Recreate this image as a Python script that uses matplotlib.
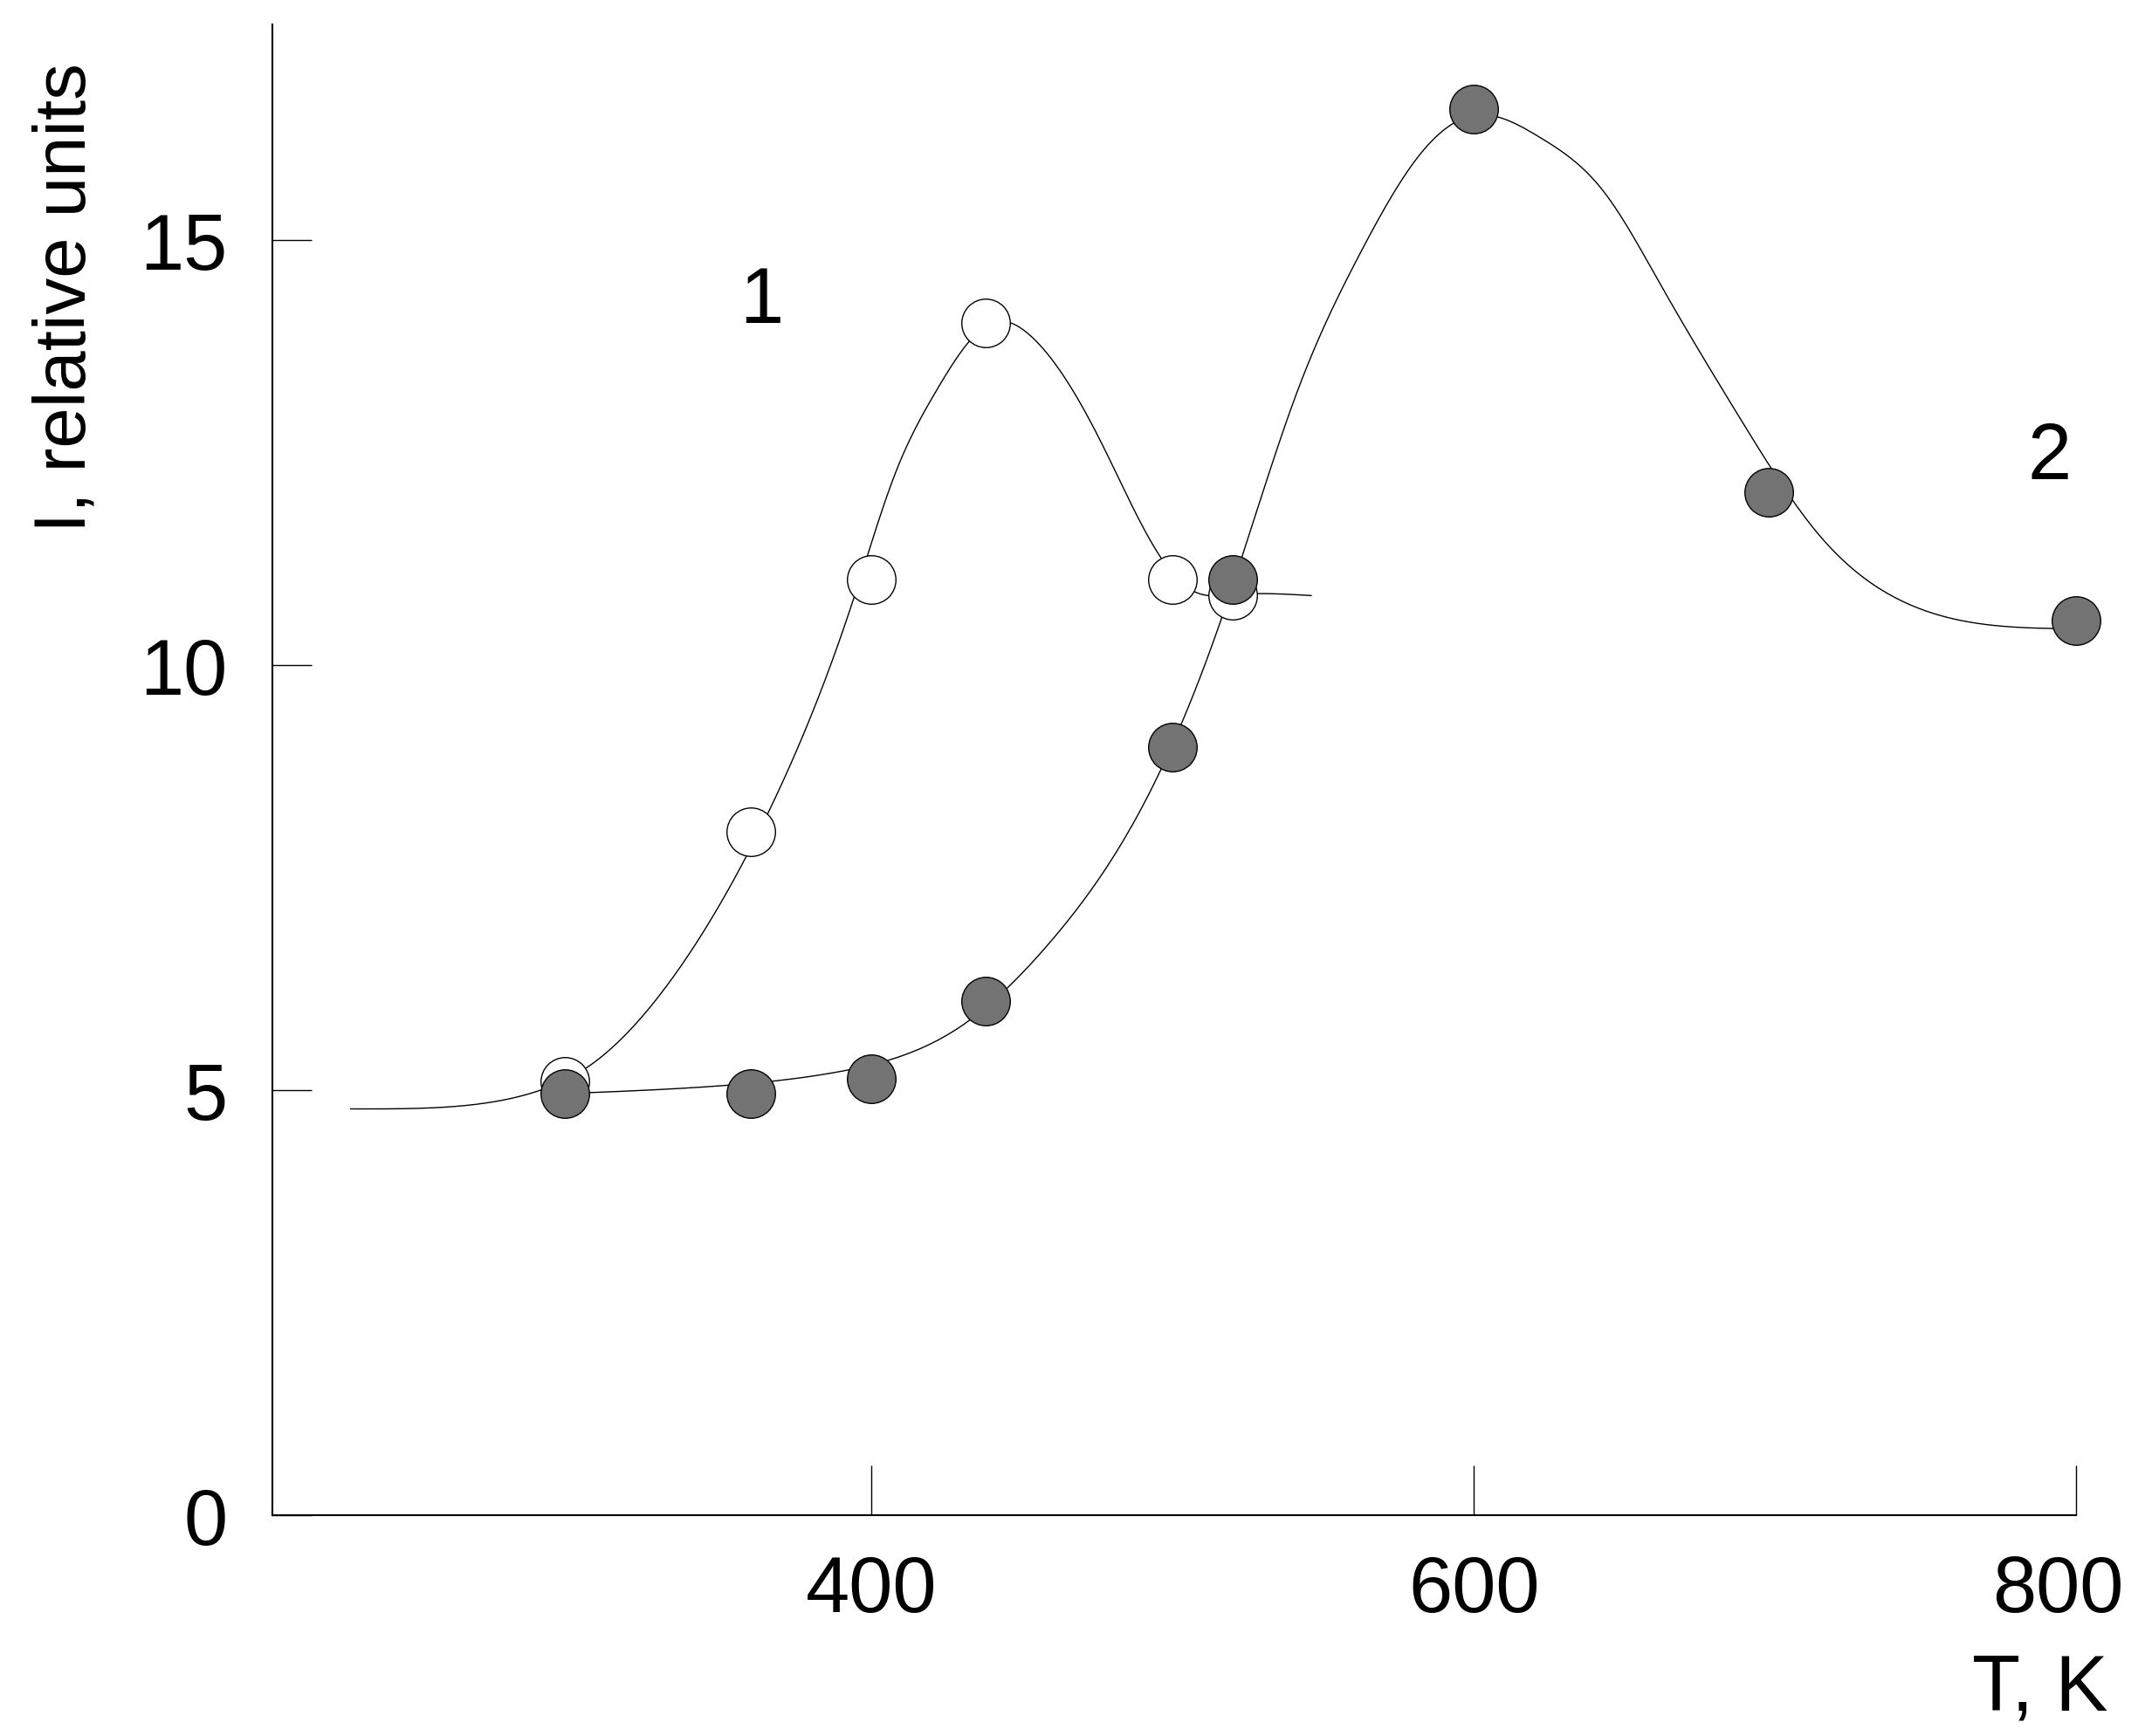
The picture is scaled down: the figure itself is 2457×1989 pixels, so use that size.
import numpy as np
import matplotlib
matplotlib.use('Agg')
import matplotlib.pyplot as plt
import matplotlib.transforms as mtransforms
from matplotlib import font_manager

# ---------------- data ----------------
# Series 1 (open circles)
T1 = [298, 360, 400, 438, 500, 520]
I1 = [5.10, 8.04, 11.01, 14.03, 11.01, 10.82]
# Series 2 (filled circles)
T2 = [298, 360, 400, 438, 500, 520, 600, 698, 800]
I2 = [4.96, 4.96, 5.13, 6.05, 9.04, 11.01, 16.54, 12.04, 10.53]

# hand-drawn smooth curves (knots)
curve1_T = [227, 252, 272, 290, 306, 332, 366, 394, 408, 421, 441, 453,
            476, 496, 507, 520, 546]
curve1_I = [4.78, 4.79, 4.85, 5.00, 5.28, 6.23, 8.29, 10.78, 12.27, 13.20,
            14.04, 13.87, 12.64, 11.27, 10.87, 10.83, 10.82]
curve2_T = [298, 349, 391, 430, 459, 491, 516, 542, 562, 581, 600, 622,
            643, 662, 688, 714.5, 745, 770, 800]
curve2_I = [4.96, 5.05, 5.23, 5.76, 6.73, 8.41, 10.53, 13.28, 14.83, 15.96,
            16.47, 16.21, 15.58, 14.48, 12.93, 11.54, 10.71, 10.48, 10.43]

x_ticks = [400, 600, 800]
y_ticks = [0, 5, 10, 15]
x_label = "T, K"
y_label = "I, relative units"
curve_labels = ["1", "2"]

# ---------------- fonts ----------------
names = {f.name for f in font_manager.fontManager.ttflist}
fam = ['Liberation Sans Narrow', 'Liberation Sans', 'DejaVu Sans']
fam = [f for f in fam if f in names] or ['DejaVu Sans']
plt.rcParams['font.family'] = fam
FS = 65


def natural_spline(x, y, n=800):
    x = np.asarray(x, float)
    y = np.asarray(y, float)
    m = len(x)
    h = np.diff(x)
    A = np.zeros((m, m))
    b = np.zeros(m)
    A[0, 0] = A[-1, -1] = 1.0
    for i in range(1, m - 1):
        A[i, i - 1] = h[i - 1]
        A[i, i] = 2 * (h[i - 1] + h[i])
        A[i, i + 1] = h[i]
        b[i] = 3 * ((y[i + 1] - y[i]) / h[i] - (y[i] - y[i - 1]) / h[i - 1])
    c = np.linalg.solve(A, b)
    bb = (y[1:] - y[:-1]) / h - h * (2 * c[:-1] + c[1:]) / 3
    d = (c[1:] - c[:-1]) / (3 * h)
    xs = np.linspace(x[0], x[-1], n)
    idx = np.clip(np.searchsorted(x, xs, side='right') - 1, 0, m - 2)
    dx = xs - x[idx]
    ys = y[idx] + bb[idx] * dx + c[idx] * dx ** 2 + d[idx] * dx ** 3
    return xs, ys


fig = plt.figure(figsize=(24.57, 19.90), dpi=100)
ax = fig.add_axes([0.12698, 0.12714, 0.84087, 0.85829])
ax.set_xlim(201, 800)
ax.set_ylim(0, 17.54)

cx, cy = natural_spline(curve1_T, curve1_I)
ax.plot(cx, cy, color='black', lw=1.0, zorder=2, clip_on=False)
cx, cy = natural_spline(curve2_T, curve2_I)
ax.plot(cx, cy, color='black', lw=1.0, zorder=2, clip_on=False)

ax.plot(T1, I1, linestyle='none', marker='o', markersize=40,
        markerfacecolor='white', markeredgecolor='black', markeredgewidth=1.0,
        zorder=3, clip_on=False)
ax.plot(T2, I2, linestyle='none', marker='o', markersize=40,
        markerfacecolor='#737373', markeredgecolor='black', markeredgewidth=1.0,
        zorder=4, clip_on=False)

# axes styling
for s in ['top', 'right']:
    ax.spines[s].set_visible(False)
for s in ['left', 'bottom']:
    ax.spines[s].set_linewidth(1.5)

ax.set_xticks(x_ticks)
ax.set_xticklabels([str(v) for v in x_ticks])
ax.set_yticks(y_ticks)
ax.set_yticklabels([str(v) for v in y_ticks])
ax.tick_params(axis='x', direction='in', length=41, width=1.0, pad=32,
               labelsize=FS)
ax.tick_params(axis='y', direction='in', length=32.4, width=1.0, pad=37,
               labelsize=FS)

# shift the last x tick label slightly to the left (as in the original)
lbls = ax.get_xticklabels()
off = mtransforms.ScaledTranslation(-21 / 100, 0, fig.dpi_scale_trans)
lbls[-1].set_transform(lbls[-1].get_transform() + off)

# curve labels
ax.text(363.4, 14.04, curve_labels[0], fontsize=FS, ha='center', va='baseline')
ax.text(791.2, 12.2, curve_labels[1], fontsize=FS, ha='center', va='baseline')

# axis titles
fig.text(0.9512, 0.01508, x_label, fontsize=FS, ha='center', va='baseline')
fig.text(0.0395, 0.8284, y_label, fontsize=60, rotation=90,
         rotation_mode='anchor', ha='center', va='baseline')

fig.savefig('out.png', dpi=100, facecolor='white')
